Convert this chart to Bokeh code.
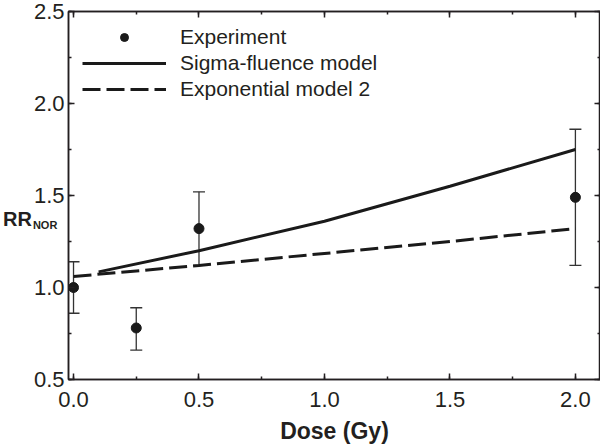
from bokeh.plotting import figure
from bokeh.models import (ColumnDataSource, Whisker, TeeHead, LinearAxis, Range1d, Div,
                          SingleIntervalTicker, Legend, LegendItem, NumeralTickFormatter)
from bokeh.layouts import row
from bokeh.embed import file_html
from bokeh.resources import INLINE

# ---- data ----
dose_exp = [0.0, 0.25, 0.5, 2.0]
rr_exp = [1.00, 0.78, 1.32, 1.49]
rr_upper = [1.14, 0.89, 1.52, 1.86]
rr_lower = [0.86, 0.66, 1.12, 1.12]

dose_sigma = [0.1, 0.5, 1.0, 1.5, 2.0]
rr_sigma = [1.085, 1.20, 1.36, 1.55, 1.75]

dose_expo = [0.0, 0.5, 1.0, 1.5, 2.0]
rr_expo = [1.06, 1.12, 1.185, 1.25, 1.32]

legend_labels = ["Experiment", "Sigma-fluence model", "Exponential model 2"]
x_label = "Dose (Gy)"
y_label_main = "RR"
y_label_sub = "NOR"

INK = "#231f20"
FONT = "Liberation Sans"
LAB_W = 18

p = figure(width=600 - LAB_W, height=448, output_backend="svg", toolbar_location=None,
           x_range=Range1d(-0.02, 2.1), y_range=Range1d(0.5, 2.5),
           min_border_left=68 - LAB_W, min_border_right=0, min_border_top=11,
           min_border_bottom=69)
p.xgrid.visible = False
p.ygrid.visible = False
p.outline_line_color = INK
p.outline_line_width = 1.5
p.background_fill_color = "white"
p.border_fill_alpha = 0

def style_axis(ax, labels=True):
    ax.ticker = SingleIntervalTicker(interval=0.5, num_minor_ticks=2)
    ax.major_tick_in = 6
    ax.major_tick_out = 0
    ax.minor_tick_in = 3
    ax.minor_tick_out = 0
    ax.axis_line_color = INK
    ax.axis_line_width = 1.5
    ax.major_tick_line_color = INK
    ax.major_tick_line_width = 1.5
    ax.minor_tick_line_color = INK
    ax.minor_tick_line_width = 1.5
    ax.formatter = NumeralTickFormatter(format="0.0")
    if labels:
        ax.major_label_text_font = FONT
        ax.major_label_text_font_size = "22px"
        ax.major_label_text_color = INK
    else:
        ax.major_label_text_font_size = "0px"
        ax.major_label_text_color = None
        ax.major_label_standoff = 0
        ax.axis_label_standoff = 0

style_axis(p.xaxis[0])
style_axis(p.yaxis[0])
p.xaxis[0].major_label_standoff = 12
p.yaxis[0].major_label_standoff = 4
p.xaxis[0].axis_label = x_label
p.xaxis[0].axis_label_text_font = FONT
p.xaxis[0].axis_label_text_font_size = "23px"
p.xaxis[0].axis_label_text_font_style = "bold"
p.xaxis[0].axis_label_text_color = INK
p.xaxis[0].axis_label_standoff = 8

top_ax = LinearAxis()
style_axis(top_ax, labels=False)
p.add_layout(top_ax, "above")
right_ax = LinearAxis()
style_axis(right_ax, labels=False)
p.add_layout(right_ax, "right")

src = ColumnDataSource(dict(x=dose_exp, y=rr_exp, upper=rr_upper, lower=rr_lower))
whisk = Whisker(base="x", upper="upper", lower="lower", source=src,
                line_color="#333333", line_width=1.3,
                upper_head=TeeHead(size=12, line_color="#333333", line_width=1.3),
                lower_head=TeeHead(size=12, line_color="#333333", line_width=1.3))
p.add_layout(whisk)

r_sig = p.line(dose_sigma, rr_sigma, line_width=3, line_color="#1a1a1a")
r_exp = p.line(dose_expo, rr_expo, line_width=3, line_color="#1a1a1a", line_dash="18 6")
r_pts = p.scatter("x", "y", source=src, size=10, fill_color="#1a1a1a", line_color="#1a1a1a")

legend = Legend(items=[LegendItem(label=legend_labels[0], renderers=[r_pts]),
                       LegendItem(label=legend_labels[1], renderers=[r_sig]),
                       LegendItem(label=legend_labels[2], renderers=[r_exp])],
                location="top_left", border_line_color=None, background_fill_alpha=0,
                label_text_font=FONT, label_text_font_size="21px", label_text_color=INK,
                glyph_width=84, glyph_height=20, label_standoff=14, spacing=2,
                padding=0, margin=14)
p.add_layout(legend)

# y-axis title "RR" with subscript "NOR" (HTML text in the left margin,
# placed between the 1.5 and 1.0 tick labels)
ylab_html = (
    '<div style="padding-top:208px;padding-left:3px;white-space:nowrap;'
    f"font-family:'{FONT}',Arial,sans-serif;font-weight:bold;font-size:20px;"
    f'line-height:22px;color:{INK};">'
    f'{y_label_main}<span style="font-size:11px;position:relative;top:3px;'
    f'margin-left:1px;">{y_label_sub}</span></div>'
)
ylab = Div(text=ylab_html, width=LAB_W, height=448, margin=(0, 0, 0, 0),
           styles={"overflow": "visible", "z-index": "5"})

layout = row(ylab, p, spacing=0)
open("out.html", "w").write(file_html(layout, INLINE))
